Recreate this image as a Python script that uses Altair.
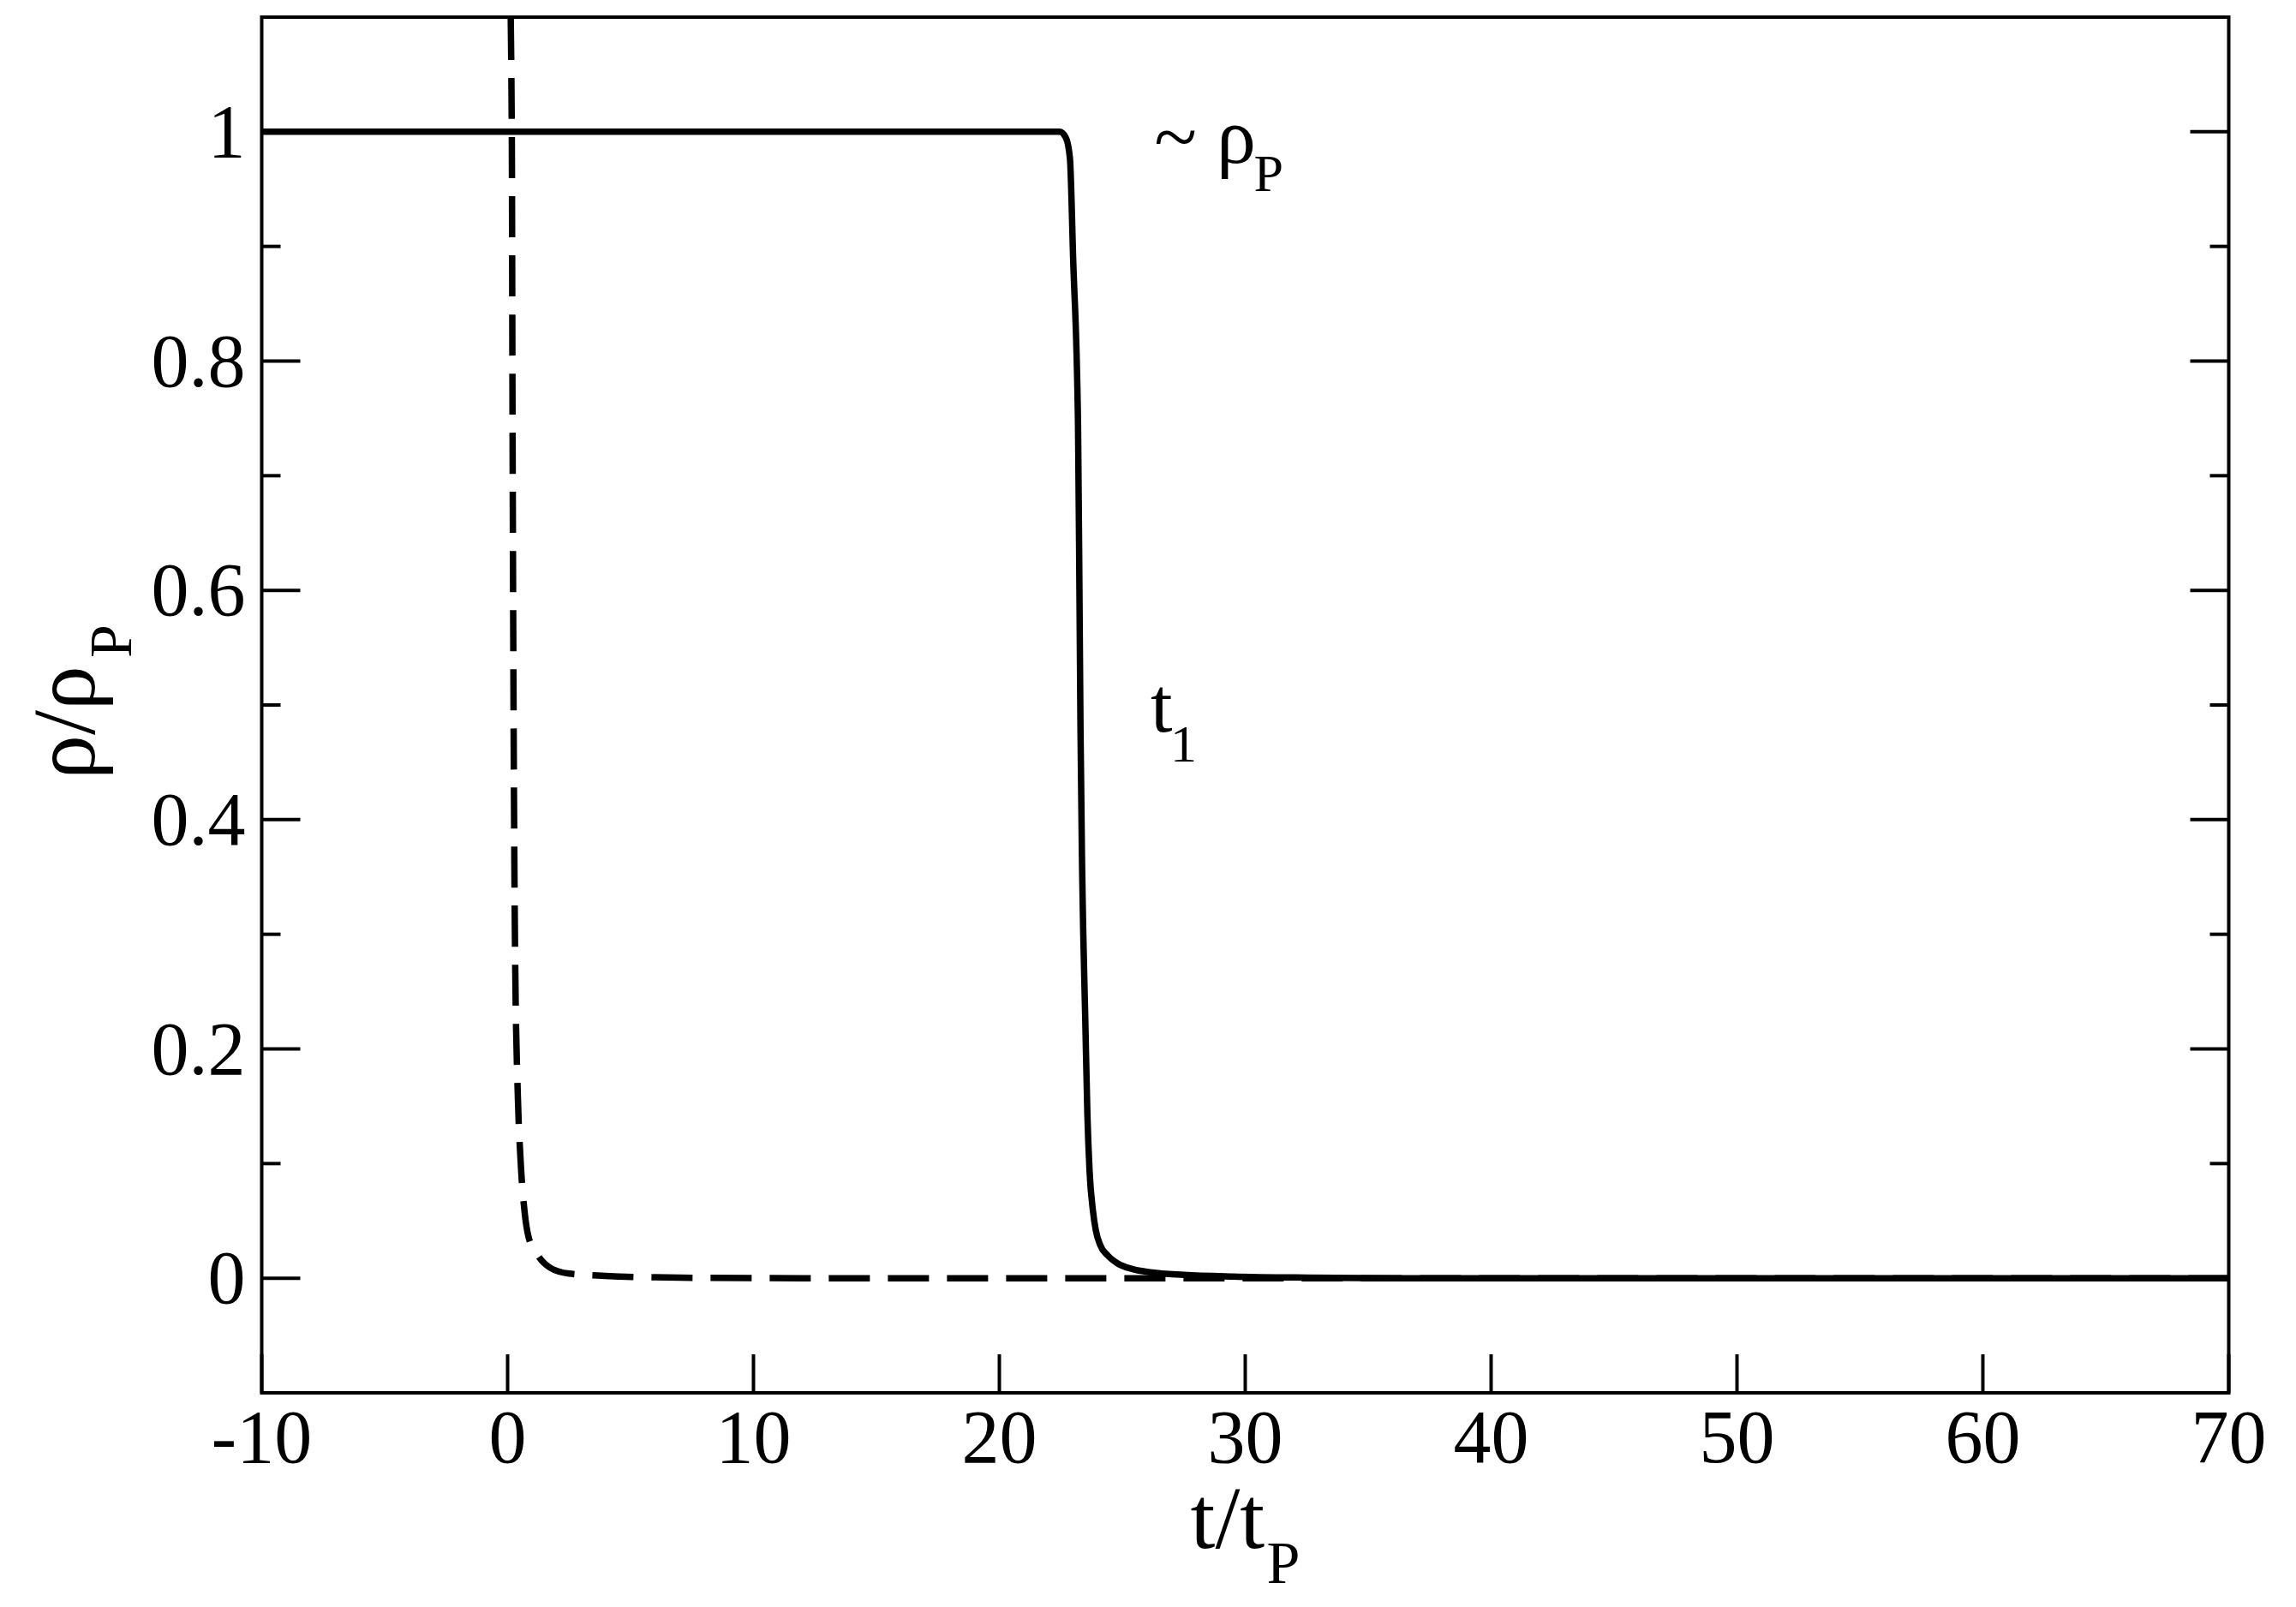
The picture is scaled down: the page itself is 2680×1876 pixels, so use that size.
import altair as alt
import pandas as pd

# ---- data ----
solid_t = [-10, 22.45, 22.7, 22.87, 23.0, 23.2, 23.26, 23.3, 23.36, 23.5, 23.58, 23.67,
           23.8, 23.92, 24.1, 24.4, 24.8, 25.4, 26.2, 27.5, 29.5, 32.5, 36, 70]
solid_rho = [1.0, 1.0, 0.995, 0.977, 0.89, 0.743, 0.591, 0.479, 0.367, 0.22, 0.143, 0.093,
             0.06, 0.042, 0.029, 0.02, 0.013, 0.008, 0.005, 0.003, 0.0015, 0.0005, 0, 0]

dashed_t = [0.08, 0.17, 0.2, 0.3, 0.42, 0.52, 0.7, 0.84, 1.17, 1.74, 2.5, 3.97, 7, 12, 70]
dashed_rho = [1.15, 1.0, 0.755, 0.293, 0.156, 0.106, 0.056, 0.037, 0.022, 0.009, 0.004,
              0.002, 0.0005, 0, 0]

x_ticks = [-10, 0, 10, 20, 30, 40, 50, 60, 70]
x_labels = ["-10", "0", "10", "20", "30", "40", "50", "60", "70"]
y_ticks = [0, 0.2, 0.4, 0.6, 0.8, 1]
y_labels = ["0", "0.2", "0.4", "0.6", "0.8", "1"]
y_minor = [0.1, 0.3, 0.5, 0.7, 0.9]

# annotations (data coordinates)
ann_text = ["~ \u03c1", "P", "t", "1"]
ann_x = [26.3, 30.35, 26.15, 26.95]
ann_y = [0.973, 0.948, 0.477, 0.451]
ann_size = ["big", "small", "big", "small"]

W, H = 2296, 1606
FONT = "Liberation Serif"
MAJ, MIN = 45, 22

xs = alt.Scale(domain=[-10, 70], nice=False, zero=False)
ys = alt.Scale(domain=[-0.1, 1.1], nice=False, zero=False)

solid_df = pd.DataFrame({"t": solid_t, "rho": solid_rho})
dashed_df = pd.DataFrame({"t": dashed_t, "rho": dashed_rho})

dashed = alt.Chart(dashed_df).mark_line(
    color="black", strokeWidth=7.5, strokeDash=[48, 21], clip=True,
    interpolate="monotone"
).encode(
    x=alt.X("t:Q", scale=xs, axis=None),
    y=alt.Y("rho:Q", scale=ys, axis=None),
)

solid = alt.Chart(solid_df).mark_line(
    color="black", strokeWidth=7.5, clip=True, interpolate="monotone"
).encode(
    x=alt.X("t:Q", scale=xs, axis=None),
    y=alt.Y("rho:Q", scale=ys, axis=None),
)

ymaj_df = pd.DataFrame({"v": y_ticks, "label": y_labels})
ymin_df = pd.DataFrame({"v": y_minor})
xmaj_df = pd.DataFrame({"v": x_ticks, "label": x_labels})

def yrule(df, x1, x2):
    return alt.Chart(df).mark_rule(color="black", strokeWidth=4).encode(
        y=alt.Y("v:Q", scale=ys, axis=None),
        x=alt.value(x1), x2=alt.value(x2))

def xrule(df, y1, y2):
    return alt.Chart(df).mark_rule(color="black", strokeWidth=4).encode(
        x=alt.X("v:Q", scale=xs, axis=None),
        y=alt.value(y1), y2=alt.value(y2))

ticks = [
    yrule(ymaj_df, 0, MAJ), yrule(ymin_df, 0, MIN),
    yrule(ymaj_df, W - MAJ, W), yrule(ymin_df, W - MIN, W),
    xrule(xmaj_df, H - MAJ, H),
]

x_tick_labels = alt.Chart(xmaj_df).mark_text(
    font=FONT, fontSize=88, align="center", baseline="top", color="black"
).encode(x=alt.X("v:Q", scale=xs, axis=None), y=alt.value(H + 11), text="label:N")

y_tick_labels = alt.Chart(ymaj_df).mark_text(
    font=FONT, fontSize=88, align="right", baseline="middle", color="black", dy=3
).encode(y=alt.Y("v:Q", scale=ys, axis=None), x=alt.value(-19), text="label:N")

ann_df = pd.DataFrame({"label": ann_text, "t": ann_x, "rho": ann_y, "size": ann_size})
ann_big = alt.Chart(ann_df[ann_df["size"] == "big"]).mark_text(
    font=FONT, fontSize=92, align="left", baseline="alphabetic", color="black"
).encode(x=alt.X("t:Q", scale=xs, axis=None), y=alt.Y("rho:Q", scale=ys, axis=None),
         text="label:N")
ann_small = alt.Chart(ann_df[ann_df["size"] == "small"]).mark_text(
    font=FONT, fontSize=62, align="left", baseline="alphabetic", color="black"
).encode(x=alt.X("t:Q", scale=xs, axis=None), y=alt.Y("rho:Q", scale=ys, axis=None),
         text="label:N")

def label(txt, px, py, size, angle=0):
    kw = dict(font=FONT, fontSize=size, align="left", baseline="alphabetic", color="black")
    if angle:
        kw["angle"] = angle
    return alt.Chart(pd.DataFrame({"label": [txt]})).mark_text(**kw).encode(
        x=alt.value(px), y=alt.value(py), text="label:N")

titles = [
    label("t/t", 1084, 1787, 104),
    label("P", 1173, 1828, 70),
    label("\u03c1/\u03c1", -195.5, 890, 104, 270),
    label("P", -152.5, 748, 70, 270),
]

chart = alt.layer(dashed, solid, *ticks, x_tick_labels, y_tick_labels,
                  ann_big, ann_small, *titles).properties(
    width=W, height=H,
    autosize=alt.AutoSizeParams(type="none"),
    padding={"left": 297.5, "top": 12, "right": 60, "bottom": 240},
    background="white",
).configure_view(stroke="black", strokeWidth=4)

chart.save("out.html", embed_options={"renderer": "svg", "actions": False})
